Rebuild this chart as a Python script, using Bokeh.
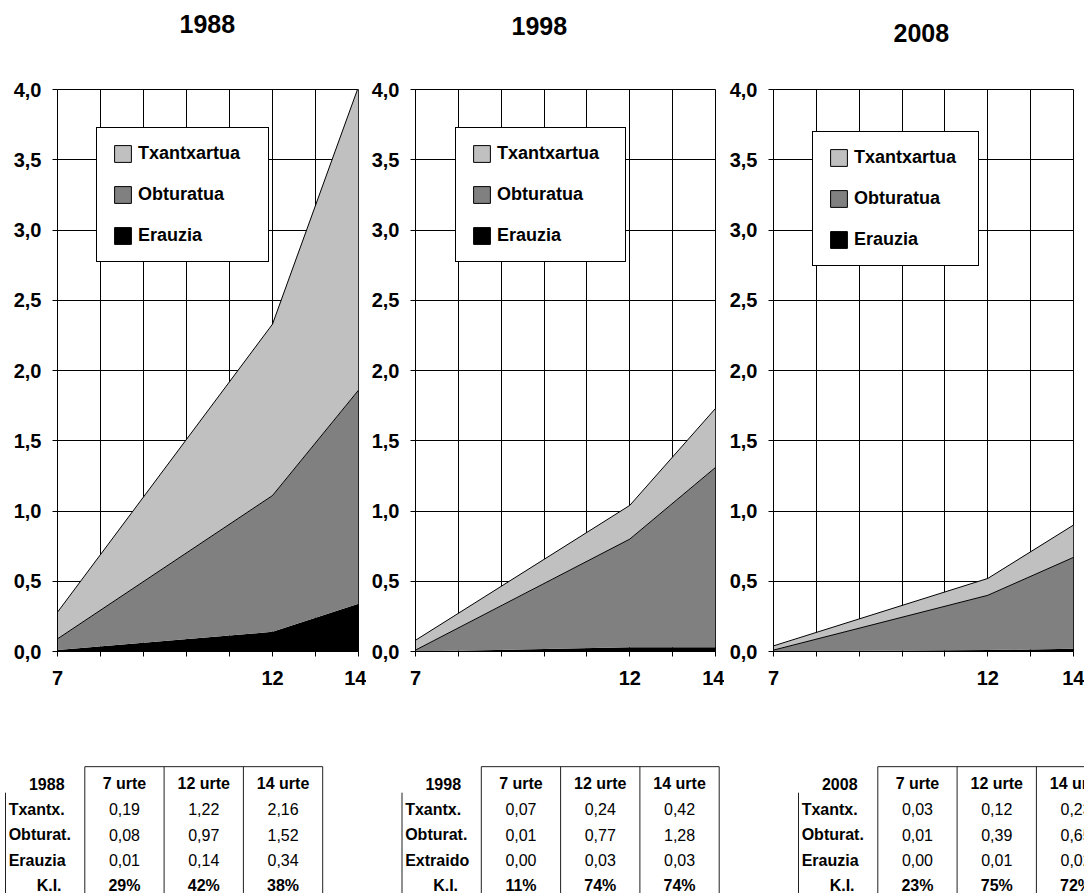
from bokeh.plotting import figure
from bokeh.models import (Range1d, FixedTicker, CustomJSTickFormatter, Legend,
                          LegendItem, ColumnDataSource)
from bokeh.layouts import column, row
from bokeh.transform import stack
from bokeh.core.properties import value
from bokeh.embed import file_html
from bokeh.resources import INLINE

# ---------------- data ----------------
years = ["1988", "1998", "2008"]
ages = [7, 12, 14]
age_labels = ["7 urte", "12 urte", "14 urte"]
x_grid_ticks = [7, 8, 9, 10, 11, 12, 13, 14]
y_ticks = [0.0, 0.5, 1.0, 1.5, 2.0, 2.5, 3.0, 3.5, 4.0]

txantx_1988 = [0.19, 1.22, 2.16]
obturat_1988 = [0.08, 0.97, 1.52]
erauzia_1988 = [0.01, 0.14, 0.34]
ki_1988 = [29, 42, 38]

txantx_1998 = [0.07, 0.24, 0.42]
obturat_1998 = [0.01, 0.77, 1.28]
erauzia_1998 = [0.00, 0.03, 0.03]
ki_1998 = [11, 74, 74]

txantx_2008 = [0.03, 0.12, 0.23]
obturat_2008 = [0.01, 0.39, 0.65]
erauzia_2008 = [0.00, 0.01, 0.02]
ki_2008 = [23, 75, 72]

legend_labels = ["Txantxartua", "Obturatua", "Erauzia"]
row_labels_1988 = ["Txantx.", "Obturat.", "Erauzia", "K.I."]
row_labels_1998 = ["Txantx.", "Obturat.", "Extraido", "K.I."]
row_labels_2008 = ["Txantx.", "Obturat.", "Erauzia", "K.I."]

# ---------------- style / layout ----------------
FONT = "Liberation Sans"
LIGHT = "#C0C0C0"
MID = "#808080"
DARK = "#000000"
NAN = float("nan")

PAGE_W, PAGE_H = 1084, 893
TITLE_H = 60
CHART_BOTTOM = 740          # page px where charts end / tables begin
FRAME_TOP, FRAME_BOTTOM = 89, 651
CHART_H = CHART_BOTTOM - TITLE_H

# (figure width, left border, right border, legend x, legend y, legend label width)
chart_layout = [
    (366, 57, 8, 39, 389, 115),
    (358, 49, 9, 40, 389, 113),
    (360, 49, 11, 39, 385, 109),
]
title_left_px = [179, 511, 893]
title_center_py = [23, 25, 32]


def make_chart(t, o, e, width, left, right, leg_x, leg_y, leg_w):
    src = ColumnDataSource(dict(x=ages, e=e, o=o, t=t))
    p = figure(width=width, height=CHART_H, x_range=Range1d(7, 14), y_range=Range1d(0, 4),
               output_backend="svg", toolbar_location=None,
               min_border_left=left, min_border_right=right,
               min_border_top=FRAME_TOP - TITLE_H,
               min_border_bottom=CHART_BOTTOM - FRAME_BOTTOM)
    p.varea_stack(stackers=["e", "o", "t"], x="x", color=[DARK, MID, LIGHT], source=src)
    p.line(x="x", y=stack("e", "o"), source=src, line_color="black", line_width=1)
    p.line(x="x", y=stack("e", "o", "t"), source=src, line_color="black", line_width=1)

    # legend swatches (outlined squares, no visible mark in the plot)
    sw_src = ColumnDataSource(dict(l=[NAN], r=[NAN], b=[NAN], tt=[NAN]))
    sw = [p.quad(left="l", right="r", bottom="b", top="tt", source=sw_src,
                 fill_color=c, line_color="black", line_width=1)
          for c in [LIGHT, MID, DARK]]
    legend = Legend(items=[LegendItem(label=lab, renderers=[r]) for lab, r in zip(legend_labels, sw)],
                    location=(leg_x, leg_y), margin=0, padding=15, spacing=20,
                    glyph_width=21, glyph_height=21, label_height=21, label_width=leg_w,
                    label_standoff=5, label_text_font=FONT, label_text_font_style="bold",
                    label_text_font_size="18px", label_text_color="black",
                    border_line_color="black", border_line_width=1, border_line_alpha=1,
                    background_fill_color="white", background_fill_alpha=1)
    p.add_layout(legend)

    p.outline_line_color = "black"
    p.outline_line_width = 1
    p.outline_line_alpha = 1

    p.xaxis.ticker = FixedTicker(ticks=x_grid_ticks)
    p.xgrid.ticker = FixedTicker(ticks=x_grid_ticks)
    p.xaxis.major_label_overrides = {v: (str(v) if v in ages else "") for v in x_grid_ticks}
    p.yaxis.ticker = FixedTicker(ticks=y_ticks)
    p.ygrid.ticker = FixedTicker(ticks=y_ticks)
    p.yaxis.formatter = CustomJSTickFormatter(code="return tick.toFixed(1).replace('.', ',');")

    for ax in (p.xaxis[0], p.yaxis[0]):
        ax.axis_line_color = "black"
        ax.axis_line_width = 1
        ax.major_tick_line_color = "black"
        ax.major_tick_out = 5
        ax.major_tick_in = 0
        ax.minor_tick_out = 0
        ax.minor_tick_in = 0
        ax.major_label_text_font = FONT
        ax.major_label_text_font_style = "bold"
        ax.major_label_text_font_size = "20px"
        ax.major_label_text_color = "black"
    p.xaxis.major_label_standoff = 14
    p.yaxis.major_label_standoff = 11

    for g in (p.xgrid[0], p.ygrid[0]):
        g.grid_line_color = "black"
        g.grid_line_alpha = 1
        g.grid_line_width = 1
    p.background_fill_color = "white"
    return p


series = [
    (txantx_1988, obturat_1988, erauzia_1988),
    (txantx_1998, obturat_1998, erauzia_1998),
    (txantx_2008, obturat_2008, erauzia_2008),
]
charts = [make_chart(t, o, e, *lay) for (t, o, e), lay in zip(series, chart_layout)]

# ---------------- titles row ----------------
tt = figure(width=PAGE_W, height=TITLE_H, output_backend="svg", toolbar_location=None,
            x_range=Range1d(0, PAGE_W), y_range=Range1d(TITLE_H, 0),
            x_axis_location=None, y_axis_location=None, min_border=0)
tt.grid.visible = False
tt.outline_line_color = None
tt.text(x=title_left_px, y=title_center_py, text=years, text_align="left",
        text_baseline="middle", text_font=value(FONT), text_font_style="bold",
        text_font_size="25px", text_color="black")

# ---------------- tables ----------------
CW = 79.3   # px per column
RH = 25.5   # px per row
TW, TH = PAGE_W, PAGE_H - CHART_BOTTOM
HEAD_Y = 783 - CHART_BOTTOM    # header row centre, px from table-figure top
LEFT_PX = 5
tp = figure(width=TW, height=TH, output_backend="svg", toolbar_location=None,
            x_range=Range1d(-LEFT_PX / CW, (TW - LEFT_PX) / CW),
            y_range=Range1d((TH - HEAD_Y) / RH, -HEAD_Y / RH),
            x_axis_location=None, y_axis_location=None, min_border=0)
tp.grid.visible = False
tp.outline_line_color = None

tables = [
    (years[0], row_labels_1988, [txantx_1988, obturat_1988, erauzia_1988], ki_1988),
    (years[1], row_labels_1998, [txantx_1998, obturat_1998, erauzia_1998], ki_1998),
    (years[2], row_labels_2008, [txantx_2008, obturat_2008, erauzia_2008], ki_2008),
]

bold_x, bold_y, bold_t, bold_align = [], [], [], []
norm_x, norm_y, norm_t = [], [], []
x0s, y0s, x1s, y1s = [], [], [], []
for ti, (yr, rlabels, vals, ki) in enumerate(tables):
    ox = ti * 5
    bold_x.append(ox + 0.52); bold_y.append(0); bold_t.append(yr); bold_align.append("center")
    for j, a in enumerate(age_labels):
        bold_x.append(ox + 1.5 + j); bold_y.append(0); bold_t.append(a); bold_align.append("center")
    for i, lab in enumerate(rlabels[:3]):
        bold_x.append(ox + 0.04); bold_y.append(i + 1); bold_t.append(lab); bold_align.append("left")
        for j, v in enumerate(vals[i]):
            norm_x.append(ox + 1.5 + j); norm_y.append(i + 1)
            norm_t.append(f"{v:.2f}".replace(".", ","))
    bold_x.append(ox + 0.55); bold_y.append(4); bold_t.append(rlabels[3]); bold_align.append("center")
    for j, k in enumerate(ki):
        bold_x.append(ox + 1.5 + j); bold_y.append(4); bold_t.append(f"{k}%"); bold_align.append("center")
    # cell borders
    x0s.append(ox + 1); y0s.append(-0.66); x1s.append(ox + 4); y1s.append(-0.66)
    for c in range(1, 5):
        x0s.append(ox + c); y0s.append(-0.66); x1s.append(ox + c); y1s.append(6)
    x0s.append(ox); y0s.append(0.36); x1s.append(ox); y1s.append(6)

tp.segment(x0=x0s, y0=y0s, x1=x1s, y1=y1s, line_color="#202020", line_width=1)
tp.text(x=bold_x, y=bold_y, text=bold_t, text_align=bold_align, text_baseline="middle",
        text_font=value(FONT), text_font_style="bold", text_font_size="16px", text_color="black")
tp.text(x=norm_x, y=norm_y, text=norm_t, text_align="center", text_baseline="middle",
        text_font=value(FONT), text_font_size="16px", text_color="black")

layout = column(tt, row(*charts), tp)
open("out.html", "w").write(file_html(layout, INLINE))
